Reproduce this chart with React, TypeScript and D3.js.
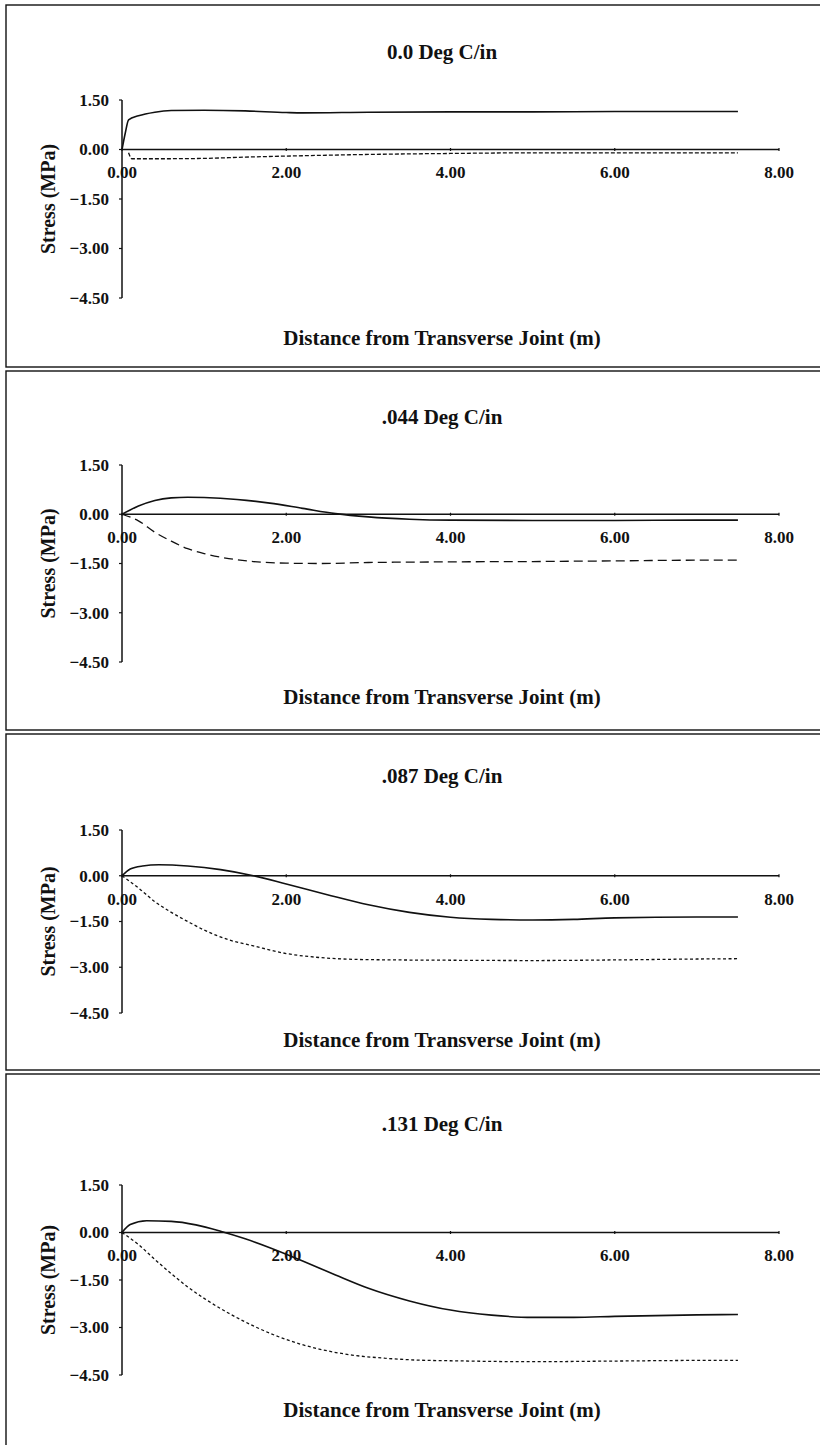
import * as d3 from "d3";
import { useEffect, useRef } from "react";

// x: distance from transverse joint (m), y: stress (MPa)
const titles = ["0.0 Deg C/in", ".044 Deg C/in", ".087 Deg C/in", ".131 Deg C/in"];
const xTicks = [0, 2, 4, 6, 8];
const yTicks = [1.5, 0, -1.5, -3, -4.5];

const solid0: [number, number][] = [
  [0, 0], [0.04, 0.5], [0.08, 0.9], [0.2, 1.02], [0.4, 1.13], [0.6, 1.18], [1, 1.19], [1.5, 1.17],
  [2, 1.12], [2.2, 1.11], [3, 1.13], [4, 1.14], [5, 1.14], [6, 1.15], [7, 1.15], [7.5, 1.15],
];
const dashed0: [number, number][] = [
  [0.08, -0.1], [0.12, -0.28], [0.5, -0.28], [1, -0.27], [1.5, -0.23], [2, -0.2], [3, -0.15],
  [4, -0.12], [5, -0.1], [6, -0.1], [7, -0.1], [7.5, -0.1],
];
const solid1: [number, number][] = [
  [0, 0], [0.2, 0.25], [0.4, 0.42], [0.6, 0.5], [0.8, 0.52], [1, 0.51], [1.4, 0.45], [1.8, 0.34],
  [2.2, 0.18], [2.6, 0.02], [3, -0.08], [3.5, -0.15], [4, -0.18], [5, -0.19], [6, -0.19], [7, -0.18], [7.5, -0.18],
];
const dashed1: [number, number][] = [
  [0, 0], [0.2, -0.2], [0.4, -0.55], [0.6, -0.82], [0.8, -1.05], [1, -1.2], [1.3, -1.35], [1.6, -1.44],
  [2, -1.49], [2.4, -1.5], [3, -1.47], [4, -1.45], [5, -1.44], [6, -1.42], [7, -1.4], [7.5, -1.4],
];
const solid2: [number, number][] = [
  [0, 0], [0.1, 0.22], [0.25, 0.32], [0.45, 0.36], [0.8, 0.32], [1.2, 0.2], [1.6, 0], [2, -0.27],
  [2.5, -0.62], [3, -0.95], [3.5, -1.2], [4, -1.36], [4.5, -1.43], [5, -1.45], [5.5, -1.43], [6, -1.38],
  [7, -1.35], [7.5, -1.35],
];
const dashed2: [number, number][] = [
  [0, 0], [0.2, -0.4], [0.4, -0.85], [0.6, -1.2], [0.8, -1.5], [1, -1.78], [1.3, -2.1], [1.6, -2.3],
  [2, -2.55], [2.4, -2.68], [3, -2.75], [4, -2.77], [5, -2.78], [6, -2.76], [7, -2.73], [7.5, -2.72],
];
const solid3: [number, number][] = [
  [0, 0], [0.1, 0.25], [0.3, 0.37], [0.6, 0.35], [0.9, 0.24], [1.2, 0.04], [1.5, -0.2], [1.8, -0.48],
  [2.2, -0.9], [2.6, -1.34], [3, -1.76], [3.5, -2.16], [4, -2.45], [4.5, -2.61], [5, -2.68], [5.5, -2.68],
  [6, -2.65], [7, -2.6], [7.5, -2.59],
];
const dashed3: [number, number][] = [
  [0, 0], [0.2, -0.38], [0.4, -0.85], [0.6, -1.3], [0.8, -1.72], [1, -2.08], [1.3, -2.55], [1.6, -2.95],
  [2, -3.38], [2.4, -3.68], [2.8, -3.87], [3.2, -3.97], [3.6, -4.03], [4, -4.05], [5, -4.08], [6, -4.06],
  [7, -4.04], [7.5, -4.04],
];

const solids = [solid0, solid1, solid2, solid3];
const dasheds = [dashed0, dashed1, dashed2, dashed3];

// page layout of each panel (px)
const panels = [
  { top: 5, bottom: 367, title: 52, yTop: 100, yBot: 298, xTitle: 338, dash: "4,2" },
  { top: 371, bottom: 730, title: 417, yTop: 465, yBot: 662, xTitle: 697, dash: "9,5" },
  { top: 734, bottom: 1070, title: 776, yTop: 830, yBot: 1013, xTitle: 1040, dash: "3,2.5" },
  { top: 1074, bottom: 1452, title: 1124, yTop: 1185, yBot: 1375, xTitle: 1410, dash: "3,2.5" },
];

const W = 820;
const H = 1445;
const FONT = "'Liberation Serif', 'Times New Roman', serif";
const INK = "#111";

export default function App() {
  const ref = useRef<SVGSVGElement>(null);

  useEffect(() => {
    if (!ref.current) return;
    const svg = d3.select(ref.current);
    svg.selectAll("*").remove();

    const x = d3.scaleLinear().domain([0, 8]).range([122, 779]);

    panels.forEach((p, i) => {
      const g = svg.append("g");
      const y = d3.scaleLinear().domain([-4.5, 1.5]).range([p.yBot, p.yTop]);

      // frame
      g.append("rect")
        .attr("x", 6)
        .attr("y", p.top)
        .attr("width", W + 10)
        .attr("height", p.bottom - p.top)
        .attr("fill", "none")
        .attr("stroke", INK)
        .attr("stroke-width", 1.4);

      g.append("text")
        .attr("x", 442)
        .attr("y", p.title)
        .attr("dy", "0.35em")
        .attr("text-anchor", "middle")
        .attr("font-family", FONT)
        .attr("font-weight", 700)
        .attr("font-size", 21)
        .attr("fill", INK)
        .text(titles[i]);

      // y axis
      g.append("line")
        .attr("x1", x(0)).attr("x2", x(0))
        .attr("y1", y(1.5)).attr("y2", y(-4.5))
        .attr("stroke", INK).attr("stroke-width", 1.5);
      yTicks.forEach(t => {
        g.append("line")
          .attr("x1", x(0) - 3).attr("x2", x(0))
          .attr("y1", y(t)).attr("y2", y(t))
          .attr("stroke", INK).attr("stroke-width", 1.2);
        g.append("text")
          .attr("x", 109)
          .attr("y", y(t))
          .attr("dy", "0.35em")
          .attr("text-anchor", "end")
          .attr("font-family", FONT)
          .attr("font-weight", 700)
          .attr("font-size", 17)
          .attr("fill", INK)
          .text(d3.format(".2f")(t));
      });

      // x axis on the zero line
      g.append("line")
        .attr("x1", x(0)).attr("x2", x(8))
        .attr("y1", y(0)).attr("y2", y(0))
        .attr("stroke", INK).attr("stroke-width", 1.6);
      xTicks.forEach(t => {
        g.append("line")
          .attr("x1", x(t)).attr("x2", x(t))
          .attr("y1", y(0) - 1.5).attr("y2", y(0) + 1.5)
          .attr("stroke", INK).attr("stroke-width", 1.2);
        g.append("text")
          .attr("x", x(t))
          .attr("y", y(0) + 23)
          .attr("dy", "0.35em")
          .attr("text-anchor", "middle")
          .attr("font-family", FONT)
          .attr("font-weight", 700)
          .attr("font-size", 17)
          .attr("fill", INK)
          .text(d3.format(".2f")(t));
      });

      const line = d3
        .line<[number, number]>()
        .x(d => x(d[0]))
        .y(d => y(d[1]))
        .curve(d3.curveMonotoneX);

      g.append("path")
        .attr("d", line(solids[i]))
        .attr("fill", "none")
        .attr("stroke", INK)
        .attr("stroke-width", 1.6);

      g.append("path")
        .attr("d", line(dasheds[i]))
        .attr("fill", "none")
        .attr("stroke", INK)
        .attr("stroke-width", 1.3)
        .attr("stroke-dasharray", p.dash);

      // axis titles
      g.append("text")
        .attr("transform", `translate(48,${(p.yTop + p.yBot) / 2}) rotate(-90)`)
        .attr("dy", "0.35em")
        .attr("text-anchor", "middle")
        .attr("font-family", FONT)
        .attr("font-weight", 700)
        .attr("font-size", 20)
        .attr("fill", INK)
        .text("Stress (MPa)");

      g.append("text")
        .attr("x", 442)
        .attr("y", p.xTitle)
        .attr("dy", "0.35em")
        .attr("text-anchor", "middle")
        .attr("font-family", FONT)
        .attr("font-weight", 700)
        .attr("font-size", 21)
        .attr("fill", INK)
        .text("Distance from Transverse Joint (m)");
    });
  }, []);

  return (
    <div style={{ position: "absolute", left: 0, top: 0, background: "#fff" }}>
      <svg ref={ref} width={W} height={H} style={{ display: "block" }} />
    </div>
  );
}
